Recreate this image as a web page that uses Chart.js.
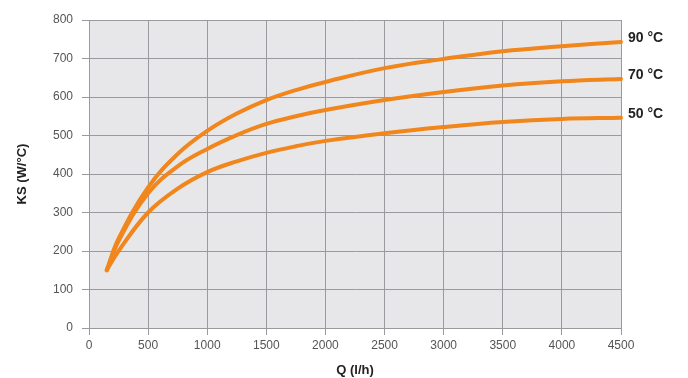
<!DOCTYPE html>
<html>
<head>
<meta charset="utf-8">
<script src="https://cdn.jsdelivr.net/npm/chart.js@4"></script>
<style>
  html, body { margin: 0; padding: 0; background: #fff; }
  #wrap { width: 688px; height: 378px; position: relative; }
</style>
</head>
<body>
<div id="wrap"><canvas id="chart"></canvas></div>
<script>
// flow rate Q (l/h)
const flow = [150, 250, 500, 750, 1000, 1250, 1500, 1750, 2000, 2500, 3000, 3500, 4000, 4500];
// KS (W/°C) per water temperature
const ks90 = [150, 232, 365, 452, 512, 557, 592, 618, 639, 675, 699, 719, 732, 743];
const ks70 = [150, 226, 350, 420, 465, 501, 530, 550, 566, 592, 613, 630, 641, 647];
const ks50 = [150, 200, 300, 362, 405, 433, 455, 472, 486, 506, 522, 535, 543, 546];
const seriesLabels = ["90 °C", "70 °C", "50 °C"];

const ORANGE = "#f0861c";
const GRID = "#9a9a9e";

function toPoints(ys) {
    return flow.map((x, i) => ({ x: x, y: ys[i] }));
}

// grey plot background
const plotBackground = {
    id: "plotBackground",
    beforeDraw(chart) {
        const a = chart.chartArea;
        const ctx = chart.ctx;
        ctx.save();
        ctx.fillStyle = "#e7e7ea";
        ctx.fillRect(a.left, a.top, a.right - a.left, a.bottom - a.top);
        ctx.restore();
    }
};

// temperature labels at the end of each curve
const endLabels = {
    id: "endLabels",
    afterDatasetsDraw(chart) {
        const ctx = chart.ctx;
        ctx.save();
        ctx.font = "bold 14px 'Liberation Sans', Arial, sans-serif";
        ctx.fillStyle = "#222";
        ctx.textBaseline = "middle";
        ctx.textAlign = "left";
        chart.data.datasets.forEach((ds, i) => {
            const last = ds.data[ds.data.length - 1];
            const px = chart.scales.x.getPixelForValue(last.x);
            const py = chart.scales.y.getPixelForValue(last.y);
            ctx.fillText(seriesLabels[i], px + 7, py - 4);
        });
        ctx.restore();
    }
};

const tickFont = { family: "'Liberation Sans', Arial, sans-serif", size: 12 };
const titleFont = { family: "'Liberation Sans', Arial, sans-serif", size: 13, weight: "bold" };

new Chart(document.getElementById("chart"), {
    type: "scatter",
    data: {
        datasets: [ks90, ks70, ks50].map((ys, i) => ({
            label: seriesLabels[i],
            data: toPoints(ys),
            showLine: true,
            borderColor: ORANGE,
            borderWidth: 4,
            pointRadius: 0,
            tension: 0.4,
            clip: false,
            borderCapStyle: "round"
        }))
    },
    options: {
        responsive: true,
        maintainAspectRatio: false,
        animation: false,
        layout: { padding: { top: 20, right: 67, left: 0, bottom: 0 } },
        plugins: {
            legend: { display: false },
            tooltip: { enabled: false }
        },
        scales: {
            x: {
                type: "linear",
                min: 0,
                max: 4500,
                ticks: {
                    stepSize: 500, color: "#555", font: tickFont, padding: 3, maxRotation: 0,
                    callback: (v) => String(v)
                },
                grid: { color: GRID, lineWidth: 1, tickLength: 7 },
                border: { color: GRID },
                title: { display: true, text: "Q (l/h)", color: "#222", font: titleFont, padding: { top: 4, bottom: 0 } },
                afterFit(scale) { scale.height = 50; }
            },
            y: {
                min: 0,
                max: 800,
                ticks: { stepSize: 100, color: "#555", font: tickFont, padding: 9, callback: (v) => String(v) },
                grid: { color: GRID, lineWidth: 1, tickLength: 7 },
                border: { color: GRID },
                title: { display: true, text: "KS (W/°C)", color: "#222", font: titleFont, padding: { top: 15, bottom: 0 } },
                afterFit(scale) { scale.width = 89; }
            }
        }
    },
    plugins: [plotBackground, endLabels]
});
</script>
</body>
</html>
